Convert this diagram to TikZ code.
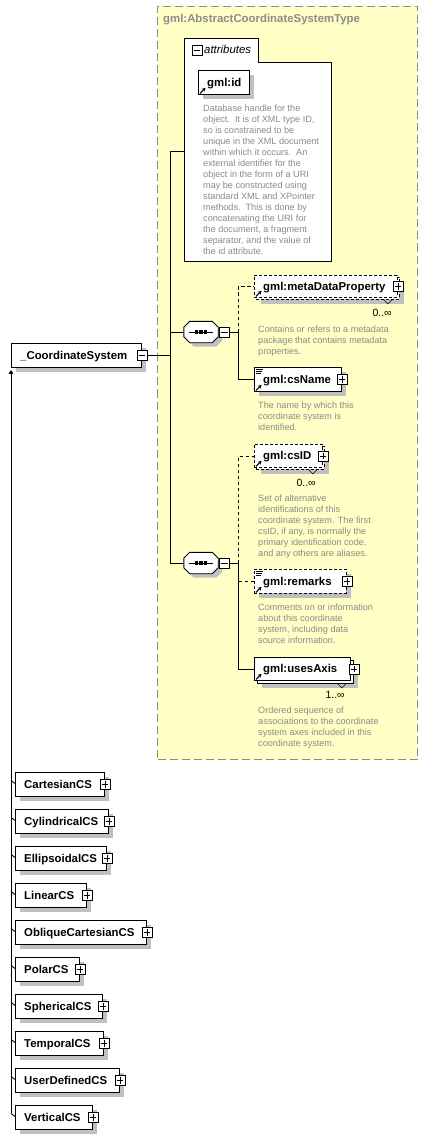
\documentclass[tikz,border=0pt]{standalone}
\usepackage{fontspec}
\setmainfont{Liberation Sans}
\usetikzlibrary{shadows,arrows.meta}
\definecolor{ctypefill}{HTML}{FFFFC6}
\definecolor{ctypeline}{HTML}{8C8C8C}
\definecolor{desctext}{HTML}{8A8A8A}
\definecolor{shadowgray}{HTML}{C0C0C0}
\newcommand\elfont{\fontsize{11.4}{13}\selectfont\bfseries}
\newcommand\descfont{\fontsize{9.1}{11}\selectfont}
\newcommand\multfont{\fontsize{10.5}{12}\selectfont}
\tikzset{
  elbox/.style={draw, fill=white, line width=0.9pt, anchor=north west, inner sep=0pt, minimum height=24pt},
  shad/.style={drop shadow={shadow xshift=5pt, shadow yshift=-5pt, fill=shadowgray, opacity=1}},
  optbox/.style={dash pattern=on 3pt off 2pt},
  eltext/.style={anchor=base west, inner sep=0pt, font=\elfont},
  desc/.style={anchor=north west, inner sep=0pt, align=left, font=\descfont, text=desctext},
  mult/.style={anchor=base east, inner sep=0pt, font=\multfont},
  pmbox/.style={draw, fill=white, line width=0.8pt, minimum size=10pt, inner sep=0pt},
  conn/.style={line width=0.9pt},
  optconn/.style={line width=0.9pt, dash pattern=on 3.5pt off 2.5pt},
  seqhold/.style={anchor=center, minimum width=34pt, minimum height=21pt, inner sep=0pt},
}
\newcommand\plusicon[2]{\node[pmbox] (#1) at (#2) {};
  \draw[line width=0.8pt] ([xshift=2pt]#1.west) -- ([xshift=-2pt]#1.east) ([yshift=-2pt]#1.north) -- ([yshift=2pt]#1.south);}
\newcommand\minusicon[2]{\node[pmbox] (#1) at (#2) {};
  \draw[line width=0.8pt] ([xshift=2pt]#1.west) -- ([xshift=-2pt]#1.east);}
\newcommand\refarrow[1]{\draw[line width=1pt, -{Stealth[length=3.5pt,width=4pt]}] ([xshift=2pt,yshift=1.5pt]#1.south west) -- ++(5.5pt,5.5pt);}
\newcommand\docicon[1]{\draw[line width=0.7pt] ([xshift=1.5pt,yshift=-2pt]#1.north west) -- ++(7pt,0pt) ([xshift=1.5pt,yshift=-4pt]#1.north west) -- ++(6pt,0pt) ([xshift=1.5pt,yshift=-6pt]#1.north west) -- ++(5pt,0pt);}
\newcommand\notchicon[1]{\draw[line width=0.6pt] ([xshift=-16pt]#1.south east) -- ++(4pt,-4pt) -- ++(4pt,4pt);}
\newcommand\seqshape[1]{%
 \path[draw, fill=white, line width=0.9pt, drop shadow={shadow xshift=4pt, shadow yshift=-4pt, fill=shadowgray, opacity=1}] ([xshift=6pt]#1.north west) -- ([xshift=-6pt]#1.north east) -- ([yshift=-6pt]#1.north east) -- ([yshift=6pt]#1.south east) -- ([xshift=-6pt]#1.south east) -- ([xshift=6pt]#1.south west) -- ([yshift=6pt]#1.south west) -- ([yshift=-6pt]#1.north west) -- cycle;
 \draw[line width=0.9pt] ([xshift=5pt]#1.west) -- ([xshift=-5pt]#1.east);
 \foreach \dx in {-4.5,0,4.5} \fill ([xshift=\dx pt]#1.center) +(-1.6pt,-1.6pt) rectangle +(1.6pt,1.6pt);
}
\begin{document}
\begin{tikzpicture}[x=1pt,y=-1pt]
\path[use as bounding box, fill=white] (0,0) rectangle (428,1139);

% complex type frame
\node[draw=ctypeline, fill=ctypefill, line width=1pt, dash pattern=on 8pt off 4pt, anchor=north west, minimum width=260pt, minimum height=753pt, inner sep=0pt] (ctype) at (157,6) {};
\node[anchor=base west, inner sep=0pt, font=\elfont, text=ctypeline] (ctypeT) at (163,22.5) {gml:AbstractCoordinateSystemType};

% attributes
\draw[fill=white, line width=0.9pt] (184,261) -- (184,38) -- (258,38) -- (258,62) -- (331,62) -- (331,261) -- cycle;
\coordinate (attrW) at (184,151);
\minusicon{attrM}{197,50}
\node[anchor=base west, inner sep=0pt, font=\fontsize{11.4}{13}\selectfont\itshape] (attrT) at (204,54) {attributes};
\node[elbox, shad, minimum width=51pt] (gid) at (198,70) {};
\node[eltext] (gidT) at ([xshift=9pt,yshift=-4pt]gid.west) {gml:id};
\refarrow{gid}
\node[desc] (gidD) at (203,104) {\rule{0pt}{7pt}Database handle for the\\object.\ \ It is of XML type ID,\\so is constrained to be\\unique in the XML document\\within which it occurs.\ \ An\\external identifier for the\\object in the form of a URI\\may be constructed using\\standard XML and XPointer\\methods.\ \ This is done by\\concatenating the URI for\\the document, a fragment\\separator, and the value of\\the id attribute.};

% root element
\node[elbox, shad, minimum width=130pt] (cs) at (11,343) {};
\node[eltext] (csT) at ([xshift=9pt,yshift=-4pt]cs.west) {\_CoordinateSystem};
\minusicon{csM}{cs.east}

% sequences
\node[seqhold] (seq1) at (201,332) {};
\seqshape{seq1}
\minusicon{seq1M}{[xshift=6pt]seq1.east}
\coordinate (b1) at ([xshift=9pt]seq1M.east);
\node[seqhold] (seq2) at (201,563) {};
\seqshape{seq2}
\minusicon{seq2M}{[xshift=6pt]seq2.east}
\coordinate (b2) at ([xshift=9pt]seq2M.east);

% metaDataProperty
\node[elbox, optbox, shad, minimum width=143pt, minimum height=22pt] (mdpB) at (256,277) {};
\node[elbox, optbox, minimum width=143pt, minimum height=22pt] (mdp) at (254,275) {};
\node[eltext] (mdpT) at ([xshift=9pt,yshift=-4pt]mdp.west) {gml:metaDataProperty};
\refarrow{mdp}
\plusicon{mdpP}{mdp.east}
\notchicon{mdpB}
\node[mult] (mdpMul) at ([xshift=-8pt,yshift=-17pt]mdpB.south east) {0..∞};
\node[desc] (mdpD) at (258,325) {\rule{0pt}{7pt}Contains or refers to a metadata\\package that contains metadata\\properties.};

% csName
\node[elbox, shad, minimum width=87pt] (csn) at (254,367) {};
\node[eltext] (csnT) at ([xshift=9pt,yshift=-4pt]csn.west) {gml:csName};
\docicon{csn}
\refarrow{csn}
\plusicon{csnP}{csn.east}
\node[desc] (csnD) at (258,401) {\rule{0pt}{7pt}The name by which this\\coordinate system is\\identified.};

% csID
\node[elbox, optbox, shad, minimum width=68pt, minimum height=23pt] (csidB) at (256,446) {};
\node[elbox, optbox, minimum width=68pt, minimum height=23pt] (csid) at (254,444) {};
\node[eltext] (csidT) at ([xshift=9pt,yshift=-4pt]csid.west) {gml:csID};
\refarrow{csid}
\plusicon{csidP}{csid.east}
\notchicon{csidB}
\node[mult] (csidMul) at ([xshift=-9pt,yshift=-17pt]csidB.south east) {0..∞};
\node[desc] (csidD) at (258,494) {\rule{0pt}{7pt}Set of alternative\\identifications of this\\coordinate system. The first\\csID, if any, is normally the\\primary identification code,\\and any others are aliases.};

% remarks
\node[elbox, optbox, shad, minimum width=92pt] (rem) at (254,569) {};
\node[eltext] (remT) at ([xshift=9pt,yshift=-4pt]rem.west) {gml:remarks};
\docicon{rem}
\refarrow{rem}
\plusicon{remP}{rem.east}
\node[desc] (remD) at (258,603) {\rule{0pt}{7pt}Comments on or information\\about this coordinate\\system, including data\\source information.};

% usesAxis
\node[elbox, shad, minimum width=96pt, minimum height=23pt] (usesB) at (257,660) {};
\node[elbox, minimum width=96pt, minimum height=23pt] (uses) at (254,657) {};
\node[eltext] (usesT) at ([xshift=9pt,yshift=-4pt]uses.west) {gml:usesAxis};
\refarrow{uses}
\plusicon{usesP}{[xshift=3pt]uses.east}
\notchicon{usesB}
\node[mult] (usesMul) at ([xshift=-9pt,yshift=-15pt]usesB.south east) {1..∞};
\node[desc] (usesD) at (258,706) {\rule{0pt}{7pt}Ordered sequence of\\associations to the coordinate\\system axes included in this\\coordinate system.};

% connectors inside type
\coordinate (busTop) at (170,151);
\draw[conn] (csM.east) -- (csM.east -| busTop);
\draw[conn] (attrW) -- (busTop) -- (busTop |- seq2.west) -- (seq2.west);
\draw[conn] (busTop |- seq1.west) -- (seq1.west);
\draw[conn] (seq1M.east) -- (b1);
\draw[optconn] (b1) |- (mdp.west);
\draw[conn] (b1) |- (csn.west);
\draw[conn] (seq2M.east) -- (b2);
\draw[optconn] (b2) |- (csid.west);
\draw[conn] (b2) |- (uses.west);
\draw[optconn] (b2 |- rem.west) -- (rem.west);

% derived types
\foreach \n/\t/\w/\yy in {cart/CartesianCS/89pt/772, cyl/CylindricalCS/93pt/809, ell/EllipsoidalCS/91pt/846, lin/LinearCS/71pt/883, obl/ObliqueCartesianCS/131pt/920, pol/PolarCS/64pt/957, sph/SphericalCS/87pt/994, tem/TemporalCS/88pt/1031, usr/UserDefinedCS/104pt/1068, ver/VerticalCS/77pt/1105}{
  \node[elbox, shad, minimum width=\w] (\n) at (15,\yy) {};
  \node[eltext] (\n-t) at ([xshift=9pt,yshift=-4pt]\n.west) {\t};
  \plusicon{\n-p}{\n.east}
  \draw[conn] ([xshift=-4pt,yshift=4pt]\n.west) -- ([yshift=1pt]\n.west);
}
\draw[conn, -{Triangle[length=4pt,width=4.5pt]}] ([xshift=-4pt,yshift=4pt]ver.west) -- ([yshift=-2pt]cs.south west);
\end{tikzpicture}
\end{document}
